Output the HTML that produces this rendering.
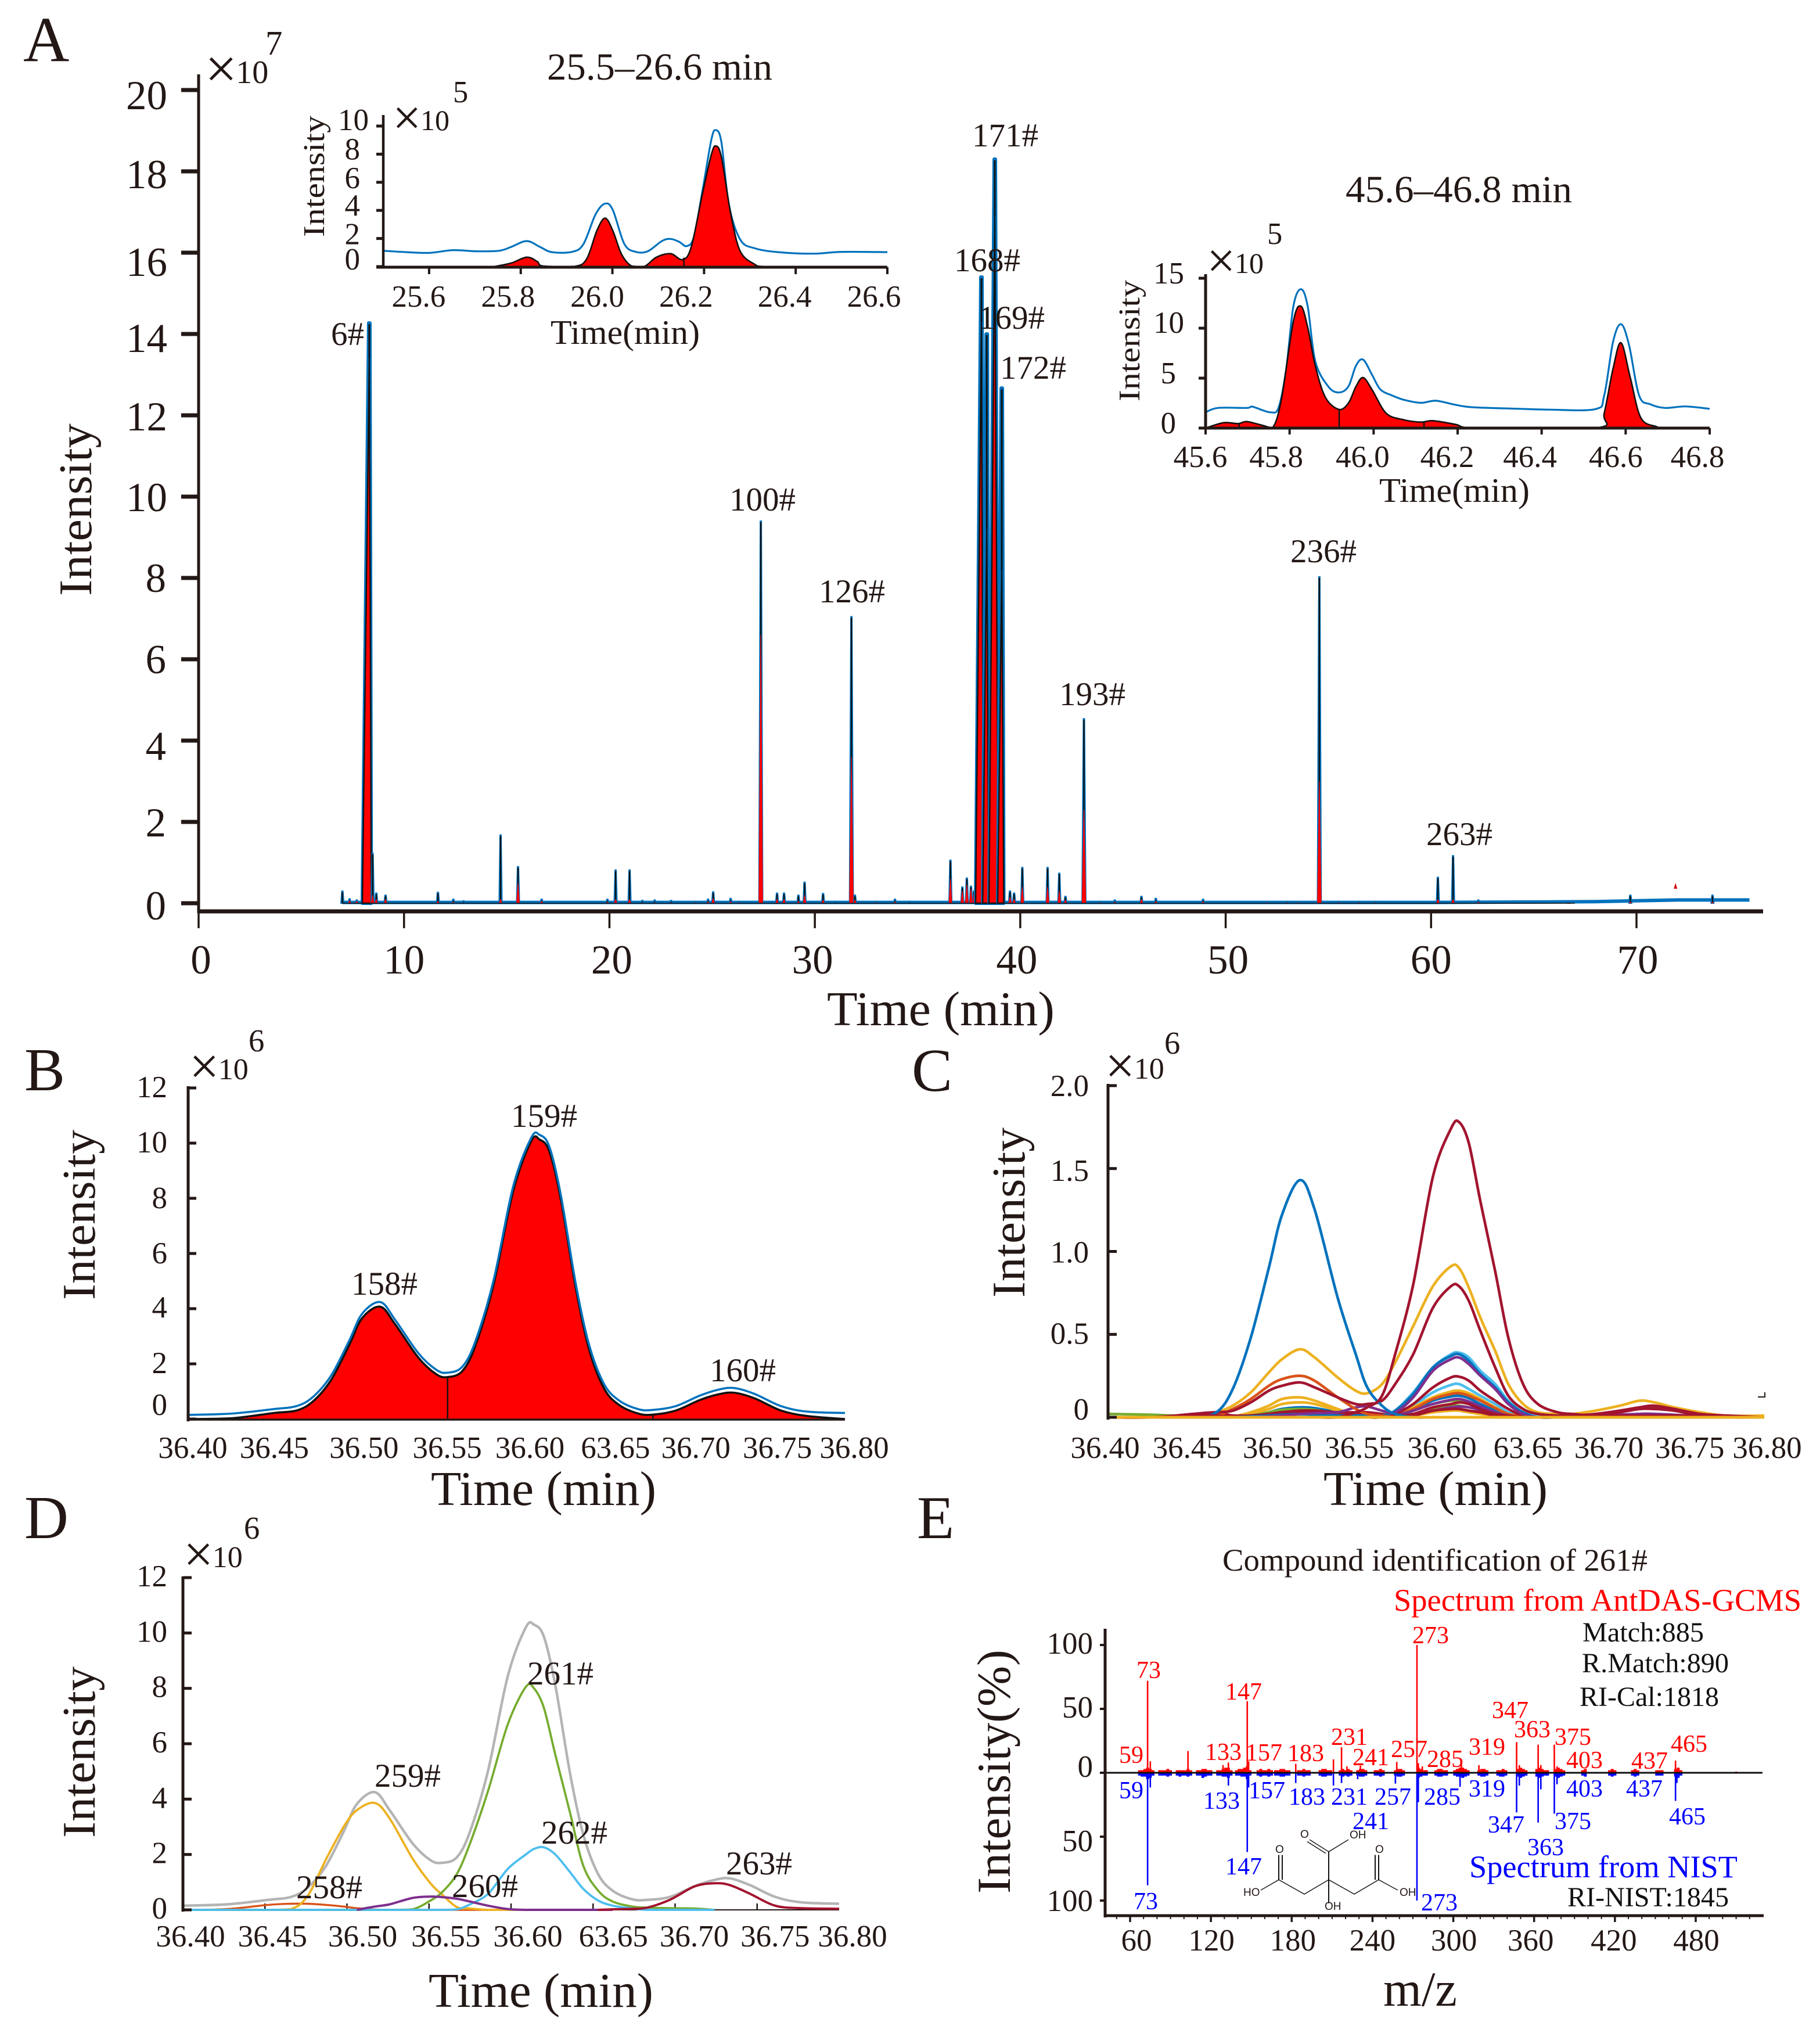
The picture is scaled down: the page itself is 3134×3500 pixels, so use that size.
<!DOCTYPE html>
<html lang="en">
<head>
<meta charset="utf-8">
<title>Chromatogram resolution figure</title>
<style>
html,body{margin:0;padding:0;background:#fff;}
svg{display:block;}
text{font-family:"Liberation Serif",serif;fill:#231815;}
</style>
</head>
<body>
<svg id="figure" xmlns="http://www.w3.org/2000/svg" width="3134" height="3500" viewBox="0 0 3134 3500">
<rect width="3134" height="3500" fill="#fff"/>

<g id="panel-a"></g>
<g id="inset-1"></g>
<g id="inset-2"></g>
<g id="panel-b"></g>
<g id="panel-c"></g>
<g id="panel-d"></g>
<g id="panel-e"></g>

<g>
<text x="40" y="105" font-size="110">A</text>
<text x="42" y="1877" font-size="105">B</text>
<text x="1570" y="1878" font-size="105">C</text>
<text x="42" y="2648" font-size="105">D</text>
<text x="1579" y="2648" font-size="105">E</text>
</g>

<g>
<text transform="translate(157,1026) rotate(-90)" font-size="80" textLength="297" lengthAdjust="spacingAndGlyphs">Intensity</text>
<text x="1424" y="1765" font-size="84" textLength="392" lengthAdjust="spacingAndGlyphs">Time (min)</text>
<text transform="translate(558,408) rotate(-90)" font-size="52" textLength="209" lengthAdjust="spacingAndGlyphs">Intensity</text>
<text x="948" y="592" font-size="59" textLength="257" lengthAdjust="spacingAndGlyphs">Time(min)</text>
<text x="942" y="137" font-size="66" textLength="388" lengthAdjust="spacingAndGlyphs">25.5–26.6 min</text>
<text transform="translate(1962,691) rotate(-90)" font-size="52" textLength="209" lengthAdjust="spacingAndGlyphs">Intensity</text>
<text x="2375" y="864" font-size="59" textLength="259" lengthAdjust="spacingAndGlyphs">Time(min)</text>
<text x="2317" y="348" font-size="66" textLength="390" lengthAdjust="spacingAndGlyphs">45.6–46.8 min</text>
<text transform="translate(163,2238) rotate(-90)" font-size="80" textLength="293" lengthAdjust="spacingAndGlyphs">Intensity</text>
<text x="742" y="2591" font-size="84" textLength="388" lengthAdjust="spacingAndGlyphs">Time (min)</text>
<text transform="translate(1764,2234) rotate(-90)" font-size="80" textLength="293" lengthAdjust="spacingAndGlyphs">Intensity</text>
<text x="2279" y="2591" font-size="84" textLength="386" lengthAdjust="spacingAndGlyphs">Time (min)</text>
<text transform="translate(163,3164) rotate(-90)" font-size="80" textLength="295" lengthAdjust="spacingAndGlyphs">Intensity</text>
<text x="738" y="3455" font-size="84" textLength="387" lengthAdjust="spacingAndGlyphs">Time (min)</text>
<text transform="translate(1739,3260) rotate(-90)" font-size="82" textLength="420" lengthAdjust="spacingAndGlyphs">Intensity(%)</text>
<text x="2382" y="3453" font-size="85" textLength="127" lengthAdjust="spacingAndGlyphs">m/z</text>
</g>

<g font-size="57">
<text x="570" y="594">6#</text>
<text x="1256" y="879">100#</text>
<text x="1410" y="1037">126#</text>
<text x="1643" y="467">168#</text>
<text x="1685" y="566">169#</text>
<text x="1674" y="252">171#</text>
<text x="1722" y="652">172#</text>
<text x="1824" y="1214">193#</text>
<text x="2222" y="968">236#</text>
<text x="2456" y="1455">263#</text>
</g>
<g font-size="57">
<text x="605" y="2229">158#</text>
<text x="880" y="1940">159#</text>
<text x="1222" y="2378">160#</text>
</g>
<g font-size="57">
<text x="510" y="3268">258#</text>
<text x="645" y="3076">259#</text>
<text x="778" y="3266">260#</text>
<text x="908" y="2900">261#</text>
<text x="932" y="3174">262#</text>
<text x="1250" y="3227">263#</text>
</g>

<g>
<text x="2105" y="2704" font-size="54" textLength="732" lengthAdjust="spacingAndGlyphs">Compound identification of 261#</text>
<text x="2400" y="2773" font-size="54" textLength="702" lengthAdjust="spacingAndGlyphs" style="fill:#ff0000">Spectrum from AntDAS-GCMS</text>
<text x="2725" y="2826" font-size="48" textLength="209" lengthAdjust="spacingAndGlyphs" style="fill:#111">Match:885</text>
<text x="2724" y="2879" font-size="48" textLength="253" lengthAdjust="spacingAndGlyphs" style="fill:#111">R.Match:890</text>
<text x="2720" y="2937" font-size="48" textLength="240" lengthAdjust="spacingAndGlyphs" style="fill:#111">RI-Cal:1818</text>
<text x="2530" y="3232" font-size="54" textLength="462" lengthAdjust="spacingAndGlyphs" style="fill:#0000ff">Spectrum from NIST</text>
<text x="2699" y="3282" font-size="48" textLength="278" lengthAdjust="spacingAndGlyphs" style="fill:#111">RI-NIST:1845</text>
</g>

<g font-size="42">
<text x="1927" y="3035" style="fill:#f00">59</text>
<text x="1957" y="2889" style="fill:#f00">73</text>
<text x="2075" y="3030" style="fill:#f00">133</text>
<text x="2110" y="2926" style="fill:#f00">147</text>
<text x="2145" y="3031" style="fill:#f00">157</text>
<text x="2217" y="3032" style="fill:#f00">183</text>
<text x="2292" y="3004" style="fill:#f00">231</text>
<text x="2329" y="3039" style="fill:#f00">241</text>
<text x="2395" y="3025" style="fill:#f00">257</text>
<text x="2432" y="2829" style="fill:#f00">273</text>
<text x="2457" y="3042" style="fill:#f00">285</text>
<text x="2529" y="3021" style="fill:#f00">319</text>
<text x="2569" y="2958" style="fill:#f00">347</text>
<text x="2607" y="2991" style="fill:#f00">363</text>
<text x="2677" y="3004" style="fill:#f00">375</text>
<text x="2697" y="3044" style="fill:#f00">403</text>
<text x="2809" y="3045" style="fill:#f00">437</text>
<text x="2877" y="3016" style="fill:#f00">465</text>
</g>
<g font-size="42">
<text x="1927" y="3096" style="fill:#00f">59</text>
<text x="1952" y="3287" style="fill:#00f">73</text>
<text x="2072" y="3114" style="fill:#00f">133</text>
<text x="2110" y="3227" style="fill:#00f">147</text>
<text x="2150" y="3096" style="fill:#00f">157</text>
<text x="2219" y="3107" style="fill:#00f">183</text>
<text x="2292" y="3107" style="fill:#00f">231</text>
<text x="2329" y="3149" style="fill:#00f">241</text>
<text x="2367" y="3107" style="fill:#00f">257</text>
<text x="2447" y="3289" style="fill:#00f">273</text>
<text x="2452" y="3107" style="fill:#00f">285</text>
<text x="2529" y="3093" style="fill:#00f">319</text>
<text x="2562" y="3155" style="fill:#00f">347</text>
<text x="2630" y="3194" style="fill:#00f">363</text>
<text x="2677" y="3149" style="fill:#00f">375</text>
<text x="2697" y="3093" style="fill:#00f">403</text>
<text x="2800" y="3093" style="fill:#00f">437</text>
<text x="2874" y="3141" style="fill:#00f">465</text>
</g>

<g>
<g transform="translate(1567,2620) scale(1,0.5612)" fill="none" stroke="#111" stroke-width="2">
<path d="M721 1098V1012M721 1012L755 975M721 1012L688 975M716 1017L684 981M721 1098V1170M721 1098L679 1142L635 1098L604 1130M635 1098V1022M641 1098V1022M721 1098L765 1142L807 1098L840 1130M807 1098V1022M801 1098V1022"/>
</g>
<g font-size="19">
<text x="2239" y="3164" style="font-family:'Liberation Sans',sans-serif">O</text>
<text x="2324" y="3165" style="font-family:'Liberation Sans',sans-serif">OH</text>
<text x="2141" y="3264" style="font-family:'Liberation Sans',sans-serif">HO</text>
<text x="2410" y="3264" style="font-family:'Liberation Sans',sans-serif">OH</text>
<text x="2281" y="3288" style="font-family:'Liberation Sans',sans-serif">OH</text>
<text x="2196" y="3190" style="font-family:'Liberation Sans',sans-serif">O</text>
<text x="2368" y="3190" style="font-family:'Liberation Sans',sans-serif">O</text>
</g>
</g>
<path d="M3027 2405H3039V2397" fill="none" stroke="#231815" stroke-width="2"/>
</svg>

<script>
/* ===== shared palette ===== */
const BLUE='#0072BD',ORANGE='#D95319',YELLOW='#EDB120',PURPLE='#7E2F8E',GREEN='#77AC30',LIGHT='#4DBEEE',DARKRED='#A2142F',GRAY='#B4B4B4',INK='#231815';

/* ===== Panel A: overview chromatogram ===== */
const aTicksY=[0,2,4,6,8,10,12,14,16,18,20];
const aTickLabelsY=['0','2','4','6','8','10','12','14','16','18','20'];
const aTicksX=[0,10,20,30,40,50,60,70];
const aTickLabelsX=['0','10','20','30','40','50','60','70'];
const aPeakTimes=[7.0,7.35,7.7,8.31,8.47,8.65,9.1,11.65,12.4,12.9,14.7,15.55,16.7,19.9,20.3,20.98,21.6,22.2,23,24.2,24.8,25.05,25.9,26.3,27.37,28.16,28.5,29.2,29.5,30.4,31,31.78,31.95,33,33.9,34.6,36.6,37.18,37.4,37.6,37.75,38.11,38.37,38.76,39.1,39.5,39.7,40.1,41.33,41.9,42.2,43.1,43.9,44.6,45.9,46.6,48.9,50.5,52,53,53.5,54.56,55.5,56.5,57.3,58,59.5,60.33,61.07,62.3,63.5,66.7,69.7,73.7];
const aBlueHeights=[.3,.11,.08,14.27,1.23,.25,.2,.27,.1,.06,1.68,.9,.1,.1,.82,.82,.07,.08,.07,.05,.1,.28,.12,.05,9.4,.25,.25,.2,.52,.24,.05,7.05,.2,.05,.1,.05,1.06,.4,.62,.42,.3,15.4,14.0,18.3,12.67,.3,.25,.88,.88,.74,.17,4.54,.05,.08,.17,.12,.1,.03,.04,.05,.04,8.03,.05,.05,.05,.04,.04,.64,1.17,.08,.04,.05,.2,.2];
const aRedHeights=[0,.06,.05,13.4,.2,.1,.1,.05,.03,0,.1,.5,.05,.03,.1,.1,.02,.02,.02,.02,.04,.12,.04,.02,6.6,.1,.1,.05,.2,.08,0,3.6,.08,.02,.04,0,.6,.3,.45,.35,.25,14.3,9.2,16.9,8.2,.15,.1,.4,.4,.3,.08,2.3,.02,.03,.1,.05,.04,0,.02,.02,.02,3,.02,.02,.02,.01,.01,.1,.1,.03,.01,.02,.03,.03];
const aBaselineTimes=[7,20,40,60,65,68,70,72,75.5];
const aBaselineValues=[.02,.02,.02,.02,.03,.04,.06,.08,.08];
const aStrayTimes=[71.9];
const aStrayValues=[.5];

/* ===== Inset 1 (25.5-26.6 min) ===== */
const in1TicksX=[25.6,25.8,26.0,26.2,26.4,26.6];
const in1LabelsX=['25.6','25.8','26.0','26.2','26.4','26.6'];
const in1TicksY=[0,2,4,6,8,10];
const in1LabelsY=['0','2','4','6','8','10'];
const in1BlueT=[25.5,25.551,25.601,25.652,25.703,25.753,25.779,25.813,25.842,25.868,25.912,25.937,25.963,25.984,26.001,26.026,26.051,26.077,26.108,26.127,26.146,26.162,26.178,26.197,26.216,26.226,26.238,26.254,26.279,26.311,26.362,26.438,26.501,26.6];
const in1BlueV=[1.13,1.03,.98,1.17,1.09,1.13,1.4,1.82,1.4,1.03,1.05,1.61,3.7,4.48,4.02,1.61,1.05,1.09,1.82,1.97,1.76,1.46,2.13,5.48,9.04,9.71,8.83,4.44,1.92,1.3,1.03,.92,1.05,1.03];
const in1RedT=[25.741,25.779,25.813,25.836,25.849,25.918,25.944,25.966,25.984,26.001,26.02,26.042,26.07,26.096,26.127,26.153,26.172,26.197,26.216,26.226,26.238,26.258,26.279,26.311,26.324,26.362];
const in1RedV=[0,.25,.67,.36,.04,.02,.56,2.55,3.45,2.55,.88,.04,.02,.67,.92,.5,1.4,5.27,7.99,8.58,7.78,3.81,1.09,.15,.02,0];
const in1Dividers=[26.156];

/* ===== Inset 2 (45.6-46.8 min) ===== */
const in2TicksX=[45.6,45.8,46.0,46.2,46.4,46.6,46.8];
const in2LabelsX=['45.6','45.8','46.0','46.2','46.4','46.6','46.8'];
const in2TicksY=[0,5,10,15];
const in2LabelsY=['0','5','10','15'];
const in2BlueT=[45.6,45.629,45.698,45.712,45.754,45.774,45.792,45.809,45.827,45.843,45.861,45.892,45.917,45.94,45.958,45.975,45.996,46.016,46.044,46.072,46.113,46.148,46.196,46.238,46.348,46.417,46.528,46.549,46.57,46.589,46.608,46.632,46.659,46.694,46.742,46.8];
const in2BlueV=[1.58,2.02,2.02,2.14,1.58,2.08,5.95,12.2,13.9,12.2,6.7,4.17,3.57,4.17,6.25,6.85,5.36,3.87,3.27,2.83,2.53,2.74,2.32,2.08,1.93,1.85,1.9,3.27,8.63,10.4,8.33,3.27,2.38,2.02,2.17,1.93];
const in2RedT=[45.6,45.643,45.677,45.698,45.733,45.76,45.781,45.809,45.827,45.843,45.861,45.885,45.917,45.94,45.958,45.975,45.996,46.03,46.072,46.113,46.141,46.196,46.221,46.307,46.535,46.549,46.57,46.589,46.611,46.636,46.673,46.694,46.8];
const in2RedV=[0,.54,.45,.65,.3,.06,3,10.7,12.2,10.1,6.25,3.1,1.87,2.5,4.17,5.06,3.87,1.49,.83,.6,.74,.36,.06,0,.06,1.49,5.95,8.54,5.06,1.04,.15,0,0];
const in2Dividers=[45.68,45.918,46.12];

/* ===== Panels B, C, D share a retention-time grid ===== */
const gridTimes=[36.4,36.427,36.452,36.466,36.476,36.487,36.498,36.506,36.517,36.526,36.54,36.551,36.558,36.567,36.575,36.586,36.598,36.609,36.614,36.62,36.627,36.636,36.644,36.653,36.662,36.674,36.683,36.697,36.712,36.724,36.733,36.745,36.761,36.777,36.8];
const bcdTicksX=[36.4,36.45,36.5,36.55,36.6,36.65,36.7,36.75,36.8];
const bcdLabelsX=['36.40','36.45','36.50','36.55','36.60','63.65','36.70','36.75','36.80'];
const bdTicksY=[0,2,4,6,8,10,12];
const bdLabelsY=['0','2','4','6','8','10','12'];

/* Panel B */
const bTotal=[.15,.2,.36,.47,.8,1.57,2.83,3.82,4.24,3.6,2.4,1.79,1.68,1.9,2.83,5.03,8.44,10.2,10.3,9.87,8.11,4.92,2.73,1.3,.69,.36,.33,.47,.86,1.08,1.12,.91,.47,.27,.22];
const bResolved=[0,.03,.22,.31,.64,1.41,2.67,3.66,4.07,3.44,2.24,1.63,1.52,1.74,2.67,4.87,8.27,10.08,10.13,9.7,7.95,4.76,2.56,1.14,.53,.2,.16,.31,.7,.91,.95,.75,.31,.11,0];
const bDividers=[36.558,36.683];

/* Panel C: extracted ion chromatograms */
const cTicksY=[0,.5,1,1.5,2];
const cLabelsY=['0','0.5','1.0','1.5','2.0'];
const cGreenFlat=[.02,.015,.005,0,0,.01,.02,.03,.04,.03,.02,.01,0,0,.01,.02,.05,.07,.07,.06,.045,.02,.01,0,0,0,0,0,.005,.01,.01,.005,0,0,0];
const cPurpleLow=[0,0,0,0,0,.005,.015,.02,.03,.03,.02,.01,.01,.005,.005,.015,.04,.06,.065,.06,.045,.025,.01,0,0,0,0,.005,.01,.015,.015,.01,0,0,0];
const cGreen10=[0,0,0,0,.005,.01,.03,.045,.05,.045,.02,.01,0,0,.01,.04,.08,.1,.1,.09,.06,.03,.01,0,0,0,0,.005,.01,.015,.015,.01,0,0,0];
const cPurple11=[0,0,0,0,.005,.01,.02,.03,.035,.03,.015,.01,0,0,.01,.04,.08,.105,.11,.095,.065,.03,.01,0,0,0,0,.005,.015,.02,.02,.015,.005,0,0];
const cDarkRed6=[0,0,.02,.03,.01,.01,.02,.03,.04,.04,.03,.03,.03,.02,.01,.02,.06,.08,.09,.08,.05,.02,.01,0,0,.01,.01,.015,.04,.055,.06,.045,.015,0,0];
const cDarkRed5=[0,0,.01,.015,.01,.01,.02,.025,.03,.03,.02,.02,.02,.01,0,.01,.04,.05,.05,.04,.03,.01,0,0,0,.005,.01,.01,.03,.05,.05,.04,.01,0,0];
const cOrange14=[0,0,0,0,.005,.01,.02,.03,.035,.03,.02,.01,0,0,.01,.05,.11,.14,.145,.13,.1,.055,.02,.005,0,0,0,0,.01,.015,.015,.01,0,0,0];
const cYellow09=[0,0,0,0,.005,.02,.05,.08,.09,.08,.04,.01,0,0,0,.01,.03,.04,.04,.03,.02,.01,0,0,0,0,0,0,0,0,0,0,0,0,0];
const cYellow16=[0,0,0,0,.005,.03,.07,.11,.12,.1,.05,.01,0,0,.01,.06,.12,.155,.16,.145,.11,.06,.02,.01,0,0,0,0,.01,.02,.02,.01,0,0,0];
const cBlue13=[0,0,0,0,0,.01,.03,.05,.06,.055,.03,.01,0,0,.01,.04,.1,.125,.13,.115,.08,.04,.015,0,0,0,0,0,.005,.01,.01,.005,0,0,0];
const cLight20=[0,0,0,0,0,.005,.01,.02,.025,.02,.01,.005,.005,.01,.02,.07,.15,.195,.2,.17,.13,.08,.03,.01,0,0,0,0,.01,.02,.02,.01,0,0,0];
const cDarkRed24=[0,0,0,0,0,.01,.02,.03,.035,.03,.02,.01,.005,0,.02,.08,.18,.24,.245,.22,.16,.1,.05,.01,0,0,0,0,.01,.015,.015,.01,0,0,0];
const cBlue38=[0,0,0,0,0,.005,.01,.015,.02,.015,.01,.01,.01,.01,.04,.14,.3,.37,.38,.34,.26,.18,.09,.03,0,0,0,0,0,.01,.01,0,0,0,0];
const cLight39=[0,0,0,0,0,0,.01,.01,.015,.015,.01,.01,.01,.01,.04,.15,.3,.38,.39,.36,.28,.2,.1,.03,.01,0,0,0,.01,.015,.015,.01,0,0,0];
const cPurple36=[0,0,0,0,0,0,.005,.01,.02,.025,.03,.06,.065,.04,.03,.12,.28,.35,.36,.32,.25,.17,.08,.02,0,0,0,0,.01,.02,.02,.01,0,0,0];
const cOrange25=[0,0,.01,.01,.05,.11,.19,.23,.25,.22,.12,.05,.02,.01,0,0,0,0,0,0,0,0,0,0,0,0,0,0,0,0,0,0,0,0,0];
const cDarkRed80=[0,0,.02,.03,.04,.09,.16,.19,.21,.18,.12,.08,.08,.1,.2,.38,.66,.79,.79,.7,.52,.3,.13,.05,.02,.01,.01,.02,.04,.06,.07,.05,.02,.01,0];
const cYellow92=[0,0,.005,.03,.07,.15,.27,.35,.41,.36,.24,.16,.145,.2,.33,.55,.79,.91,.9,.78,.6,.4,.2,.08,.03,.02,.02,.04,.07,.1,.09,.06,.03,.01,.01];
const cBlue143=[0,0,.005,.03,.17,.48,.9,1.22,1.43,1.25,.72,.38,.18,.07,.02,0,0,0,0,0,0,0,0,0,0,0,0,0,0,0,0,0,0,0,0];
const cDarkRed178=[0,0,.01,.01,0,0,0,0,0,0,0,.03,.06,.13,.38,.8,1.45,1.74,1.78,1.65,1.3,.88,.48,.2,.08,.03,.02,.01,.01,.01,.01,.01,.01,0,0];
const cBaseYellow=[0,0,0,0,0,0,0,0,0,0,0,0,0,0,0,0,0,0,0,0,0,0,0,0,0,0,0,0,0,0,0,0,0,0,0];

/* Panel D: resolved components */
const dTotal=[.15,.2,.36,.47,.8,1.57,2.83,3.82,4.25,3.6,2.4,1.79,1.7,1.9,2.83,5.03,8.44,10.2,10.3,9.87,8.11,4.92,2.73,1.3,.69,.38,.36,.47,.86,1.08,1.14,.91,.47,.27,.22];
const dOrange258=[0,.03,.18,.22,.22,.18,.12,.06,.01,0,0,0,0,0,0,0];
const dYellow259=[0,0,0,.03,.5,1.8,3.0,3.6,3.86,3.3,1.85,.95,.55,.1,.05,0,0,0];
const dGreen261=[0,0,0,0,0,0,0,0,0,0,.02,.34,.64,1.3,2.4,4.3,6.7,8.05,8.0,7.3,5.6,3.5,1.6,.7,.3,.12,.08,.06,.05,0];
const dLight262=[0,0,0,0,0,0,0,0,0,0,0,0,0,.02,.2,.58,1.48,2.0,2.2,2.26,2.0,1.36,.76,.34,.15,.05,0,0,0,0];
const dPurple260=[null,null,null,null,null,null,null,0,.12,.2,.43,.48,.46,.4,.3,.15,.03,0,0,0,0,0,0,0,0];
const dRed263=[null,null,null,null,null,null,null,null,null,null,null,null,null,null,null,null,null,null,null,null,null,null,null,0,.02,.04,.08,.37,.85,.96,.9,.6,.15,.06,.04];

/* ===== Panel E: mirror mass spectrum ===== */
const eTicksX=[60,120,180,240,300,360,420,480];
const eLabelsX=['60','120','180','240','300','360','420','480'];
const eMinorX=[50,70,80,90,100,110,130,140,150,160,170,190,200,210,220,230,250,260,270,280,290,310,320,330,340,350,370,380,390,400,410,430,440,450,460,470,490,500,510,520];
const eTicksY=[100,50,0,-50,-100];
const eLabelsY=['100','50','0','50','100'];
const eRedMz=[73,75,103,129,133,147,148,183,211,217,221,231,258,273,274,277,306,319,347,349,363,365,375,377,465,510];
const eRedVals=[72,9,17,6,8,56,9,7,10.5,20,5,5.6,8.5,100,7.5,5,9,6,24,6,22,6,22,5,9.5,1];
const eBlueMz=[73,75,133,147,148,183,211,217,229,257,273,274,305,347,349,363,365,375,377,465,466];
const eBlueVals=[88,11.5,10,62,11.5,8,10,8,5,8.5,100,23,11,31,10,39,13,32,9,22,8];
const eBgMz=[67,69,71,73,75,77,82,84,86,88,90,95,97,99,101,103,105,110,112,114,116,118,120,125,127,129,131,133,135,139,141,143,145,147,149,155,157,159,161,163,165,168,170,172,174,176,178,185,187,189,191,193,201,203,205,207,209,216,218,220,222,224,229,231,233,235,242,244,246,248,257,259,261,263,274,276,278,280,287,289,291,293,295,301,303,305,307,309,311,319,321,323,325,333,335,337,339,348,350,352,354,362,364,366,368,370,376,378,380,382,396,398,416,418,420,433,435,437,451,453,455,465,467,469];
const eBgBlue=[2.2,3,3,5,4,2.2, 2.2,2.2,2.2,3,2.2, 2.2,3,2.2,2.2,3,2.2, 2.2,2.2,4,3,2.2,2.2, 2.2,2.2,3,3,4,2.2, 2.2,2.2,3,3,5,2.2, 2.2,3,2.2,2.2,3,2.2, 2.2,2.2,3,3,2.2,2.2, 2.2,2.2,3,2.2,2.2, 2.2,3,3,2.2,2.2, 2.2,3,2.2,3,2.2, 2.2,3,3,2.2, 2.2,2.2,3,2.2, 2.2,3,3,2.2, 4,3,2.2,2.2, 2.2,3,3,2.2,2.2, 2.2,3,3,4,3,2.2, 2.2,3,3,2.2, 2.2,3,3,2.2, 3,4,3,2.2, 3,4,3,2.2,2.2, 3,4,3,2.2, 2.2,3, 2.2,3,2.2, 2.2,3,2.2, 2.2,2.2,2.2, 3,4,2.2];
const eBgRed=[2,2,3,4,3,2, 2,2,2,3,2, 2,2,2,2,3,2, 2,2,3,3,2,2, 2,2,3,4,4,2, 2,3,3,4,5,2, 2,3,2,2,3,2, 2,2,3,3,2,2, 2,2,3,2,2, 2,3,3,2,2, 2,3,2,3,2, 2,3,3,2, 2,2,3,2, 2,3,3,2, 4,3,2,2, 2,3,3,2,2, 2,3,4,4,3,2, 2,3,3,2, 2,2,3,2, 3,4,3,2, 3,4,3,2,2, 3,4,3,2, 2,3, 2,3,2, 2,3,2, 2,2,2, 3,4,2];

/* ===== helpers ===== */
const NS='http://www.w3.org/2000/svg';
function add(parent,tag,attrs){
  const e=document.createElementNS(NS,tag);
  for(const k in attrs)e.setAttribute(k,attrs[k]);
  parent.appendChild(e);
  return e;
}
function linear(d0,d1,r0,r1){return v=>r0+(v-d0)*(r1-r0)/(d1-d0);}
function splinePath(pts,floorY){
  let d='M'+pts[0][0].toFixed(1)+' '+pts[0][1].toFixed(1);
  const lim=v=>floorY===undefined?v:Math.min(v,floorY);
  for(let i=0;i<pts.length-1;i++){
    const p0=pts[i-1]||pts[i],p1=pts[i],p2=pts[i+1],p3=pts[i+2]||p2;
    const c1x=p1[0]+(p2[0]-p0[0])/6,c1y=lim(p1[1]+(p2[1]-p0[1])/6);
    const c2x=p2[0]-(p3[0]-p1[0])/6,c2y=lim(p2[1]-(p3[1]-p1[1])/6);
    d+='C'+c1x.toFixed(1)+' '+c1y.toFixed(1)+' '+c2x.toFixed(1)+' '+c2y.toFixed(1)+' '+p2[0].toFixed(1)+' '+p2[1].toFixed(1);
  }
  return d;
}
function toPoints(ts,vs,sx,sy){
  const out=[];
  for(let i=0;i<vs.length;i++){
    if(vs[i]===null||vs[i]===undefined)continue;
    out.push([sx(ts[i]),sy(vs[i])]);
  }
  return out;
}
function valueAt(ts,vs,t){
  for(let i=0;i<ts.length-1;i++){
    if(t>=ts[i]&&t<=ts[i+1])return vs[i]+(vs[i+1]-vs[i])*(t-ts[i])/(ts[i+1]-ts[i]);
  }
  return 0;
}
function drawCurve(g,ts,vs,sx,sy,color,width,floorY,name){
  const p=add(g,'path',{d:splinePath(toPoints(ts,vs,sx,sy),floorY),fill:'none',stroke:color,'stroke-width':width,'stroke-linejoin':'round'});
  
  
  return p;
}
function drawArea(g,ts,vs,sx,sy,floorY,name){
  const pts=toPoints(ts,vs,sx,sy);
  const d=splinePath(pts,floorY)+'L'+pts[pts.length-1][0].toFixed(1)+' '+floorY+'L'+pts[0][0].toFixed(1)+' '+floorY+'Z';
  const p=add(g,'path',{d:d,fill:'#ff0000',stroke:'none'});
  
  
}
function drawDividers(g,times,ts,vs,sx,sy,floorY){
  times.forEach(t=>{
    const l=add(g,'line',{x1:sx(t),x2:sx(t),y1:sy(valueAt(ts,vs,t)),y2:floorY,stroke:'#111','stroke-width':2.4});
    
    
  });
}
function axisLine(g,x1,y1,x2,y2,w,name){
  const l=add(g,'line',{x1:x1,y1:y1,x2:x2,y2:y2,stroke:INK,'stroke-width':w});
  
  
}
function yTicks(g,ticks,labels,sy,o){
  ticks.forEach((v,i)=>{
    const t=add(g,'line',{x1:o.x0,x2:o.x1,y1:sy(v),y2:sy(v),stroke:INK,'stroke-width':o.w});
    
    
    const e=add(g,'text',{x:o.right+(o.rightNudge?o.rightNudge[i]:0),y:sy(v)+o.dy[i],'text-anchor':'end','font-size':o.size});
    e.textContent=labels[i];
    
    
  });
}
function xTicks(g,ticks,labels,sx,o){
  ticks.forEach((v,i)=>{
    if(o.len){
      const t=add(g,'line',{x1:sx(v),x2:sx(v),y1:o.y,y2:o.y+o.len,stroke:INK,'stroke-width':o.w});
      
      
    }
    const e=add(g,'text',{x:sx(v)+o.nudge[i],y:o.baseline,'text-anchor':'middle','font-size':o.size});
    e.textContent=labels[i];
    
    
  });
}
function sciLabel(g,x,base,expX,expBase,size,exp){
  const m=add(g,'text',{x:x-4,y:base+8,'font-size':size*1.75});
  m.textContent='×';
  
  
  const t=add(g,'text',{x:x+size*.88,y:base,'font-size':size});
  t.textContent='10';
  
  
  const s=add(g,'text',{x:expX,y:expBase,'font-size':size*1.05});
  s.textContent=exp;
  
  
}

/* ===== draw Panel A ===== */
(function(){
  const g=document.getElementById('panel-a');
  const sx=linear(0,70,342,2818),sy=linear(0,20,1555,155),y0=sy(0);
  const base=add(g,'path',{d:'M'+aBaselineTimes.map((t,i)=>sx(t)+' '+sy(aBaselineValues[i])).join('L'),fill:'none',stroke:BLUE,'stroke-width':6});
  
  
  aPeakTimes.forEach((t,i)=>{
    const x=sx(t),h=aBlueHeights[i],r=aRedHeights[i],top=sy(h);
    if(h>11){
      const L=h>15?10:(h>14.1?12:7),R=h>18?6:3.5;
      const b=add(g,'path',{d:'M'+(x-L)+' '+y0+'L'+(x-1)+' '+top+'L'+(x+1)+' '+top+'L'+(x+R)+' '+y0+'Z',fill:BLUE,stroke:BLUE,'stroke-width':6,'stroke-linejoin':'round'});
      
      
      const k=add(g,'line',{x1:x,x2:x,y1:top+2,y2:sy(r),stroke:'#111','stroke-width':3});
      
      
      const f=add(g,'path',{d:'M'+(x-L)+' '+y0+'L'+x+' '+sy(r)+'L'+(x+R)+' '+y0+'Z',fill:'#ff0000',stroke:'#111','stroke-width':2.4,'stroke-linejoin':'round'});
      
      
    }else{
      const hw=h>3?3.4:2.6;
      const b=add(g,'path',{d:'M'+(x-hw)+' '+y0+'L'+(x-1)+' '+top+'L'+(x+1)+' '+top+'L'+(x+hw)+' '+y0+'Z',fill:BLUE,stroke:BLUE,'stroke-width':2,'stroke-linejoin':'round'});
      
      
      const k=add(g,'line',{x1:x,x2:x,y1:top+2,y2:y0,stroke:'#111','stroke-width':h>.15?2.4:1.4});
      
      
      if(r>0){
        const f=add(g,'path',{d:'M'+(x-hw-.3)+' '+y0+'L'+(x-.5)+' '+sy(r)+'L'+(x+.5)+' '+sy(r)+'L'+(x+hw+.3)+' '+y0+'Z',fill:'#ff0000'});
        
        
      }
    }
  });
  const bl=add(g,'line',{x1:sx(7),x2:sx(67),y1:y0,y2:y0,stroke:'#111','stroke-width':1.6});
  
  
  aStrayTimes.forEach((t,i)=>{
    const x=sx(t),top=sy(aStrayValues[i]);
    const s=add(g,'path',{d:'M'+(x-3)+' '+(top+10)+'L'+x+' '+top+'L'+(x+3)+' '+(top+10)+'Z',fill:'#d00000'});
    
    
  });
  axisLine(g,342,128,342,1572,5,'panel-a-y-axis');
  axisLine(g,342,1569,3036,1569,7,'panel-a-x-axis');
  yTicks(g,aTicksY,aTickLabelsY,sy,{x0:312,x1:342,w:7,right:288,size:71,dy:[28,25,33,24,24,25,26,31,40,29,33],rightNudge:[-2,-2,-2,-2,-2,0,0,0,0,0,0]});
  xTicks(g,aTicksX,aTickLabelsX,sx,{y:1569,len:29,w:3.5,baseline:1676,size:71,nudge:[4,0,4,-4,-6,4,0,2]});
  sciLabel(g,357,143,457,94,56,'7');
})();

/* ===== draw insets ===== */
(function(){
  const g=document.getElementById('inset-1');
  const sx=linear(25.5,26.6,660,1528),sy=linear(0,10,459,217),y0=sy(0);
  drawCurve(g,in1BlueT,in1BlueV,sx,sy,BLUE,3.2,undefined,'inset-1-total-ion-trace');
  drawArea(g,in1RedT,in1RedV,sx,sy,y0,'inset-1-resolved-area');
  drawCurve(g,in1RedT,in1RedV,sx,sy,'#111',2.6,y0,'inset-1-resolved-outline');
  drawDividers(g,in1Dividers,in1RedT,in1RedV,sx,sy,y0);
  axisLine(g,660,198,660,462,4.5,'inset-1-y-axis');
  axisLine(g,648,460,1528,460,5,'inset-1-x-axis');
  yTicks(g,in1TicksY,in1LabelsY,sy,{x0:648,x1:660,w:5,right:620,size:53,dy:[5,10,9,10,9,7],rightNudge:[0,0,0,0,0,15]});
  xTicks(g,in1TicksX,in1LabelsX,sx,{y:460,len:12,w:4,baseline:528,size:53,nudge:[-18,-22,-26,-31,-19,-23]});
  sciLabel(g,680,224,780,176,50,'5');
})();
(function(){
  const g=document.getElementById('inset-2');
  const sx=linear(45.6,46.8,2076,2944),sy=linear(0,15,737,479),y0=sy(0);
  drawCurve(g,in2BlueT,in2BlueV,sx,sy,BLUE,3.2,undefined,'inset-2-total-ion-trace');
  drawArea(g,in2RedT,in2RedV,sx,sy,y0,'inset-2-resolved-area');
  drawCurve(g,in2RedT,in2RedV,sx,sy,'#111',2.6,y0,'inset-2-resolved-outline');
  drawDividers(g,in2Dividers,in2RedT,in2RedV,sx,sy,y0);
  axisLine(g,2076,472,2076,739,5,'inset-2-y-axis');
  axisLine(g,2064,737,2944,737,5,'inset-2-x-axis');
  yTicks(g,in2TicksY,in2LabelsY,sy,{x0:2064,x1:2076,w:5,right:2039,size:53,dy:[9,9,8,9],rightNudge:[-14,-14,0,0]});
  xTicks(g,in2TicksX,in2LabelsX,sx,{y:737,len:11,w:4,baseline:804,size:53,nudge:[-9,-23,-19,-18,-20,-17,-21]});
  sciLabel(g,2082,470,2182,420,50,'5');
})();

/* ===== draw Panel B ===== */
(function(){
  const g=document.getElementById('panel-b');
  const sx=linear(36.4,36.8,324,1455),sy=linear(0,12,2443,1873),y0=2443;
  drawArea(g,gridTimes,bResolved,sx,sy,y0,'panel-b-resolved-area');
  drawCurve(g,gridTimes,bResolved,sx,sy,'#111',3.6,y0,'panel-b-resolved-outline');
  drawCurve(g,gridTimes,bTotal,sx,sy,BLUE,3.6,undefined,'panel-b-total-ion-trace');
  drawDividers(g,bDividers,gridTimes,bResolved,sx,sy,y0);
  axisLine(g,324,1870,324,2447,5,'panel-b-y-axis');
  axisLine(g,324,2444,1455,2444,3.6,'panel-b-x-axis');
  yTicks(g,bdTicksY,bdLabelsY,sy,{x0:324,x1:338,w:5,right:288,size:53,dy:[-7,16,15,17,17,16,16]});
  xTicks(g,bcdTicksX,bcdLabelsX,sx,{y:2444,len:0,baseline:2510,size:53,nudge:[8,7,20,22,23,29,26,25,16]});
  sciLabel(g,330,1858,428,1810,52,'6');
})();

/* ===== draw Panel C ===== */
(function(){
  const g=document.getElementById('panel-c');
  const sx=linear(36.4,36.8,1908,3038),sy=linear(0,2,2440,1869);
  const series=[[cGreenFlat,GREEN],[cPurpleLow,PURPLE],[cLight20,LIGHT],[cBlue13,BLUE],[cYellow09,YELLOW],[cYellow16,YELLOW],[cOrange14,ORANGE],[cGreen10,GREEN],[cPurple11,PURPLE],[cDarkRed5,DARKRED],[cDarkRed6,DARKRED],[cDarkRed24,DARKRED],[cLight39,LIGHT],[cBlue38,BLUE],[cPurple36,PURPLE],[cOrange25,ORANGE],[cYellow92,YELLOW],[cDarkRed80,DARKRED],[cBlue143,BLUE],[cDarkRed178,DARKRED]];
  series.forEach(s=>{
    drawCurve(g,gridTimes,s[0],sx,sy,s[1],4.6,2442,'extracted-ion-trace');
  });
  drawCurve(g,gridTimes,cBaseYellow,sx,sy,YELLOW,5,undefined,'extracted-ion-baseline');
  axisLine(g,1908,1866,1908,2444,5,'panel-c-y-axis');
  yTicks(g,cTicksY,cLabelsY,sy,{x0:1908,x1:1923,w:5,right:1875,size:53,dy:[4,16,19,21,18]});
  xTicks(g,bcdTicksX,bcdLabelsX,sx,{y:2444,len:0,baseline:2510,size:53,nudge:[-5,-5,9,9,10,17,15,13,5]});
  sciLabel(g,1907,1857,2005,1814,52,'6');
})();

/* ===== draw Panel D ===== */
(function(){
  const g=document.getElementById('panel-d');
  const sx=linear(36.4,36.8,315,1445),sy=linear(0,12,3288,2716);
  axisLine(g,315,3288,1445,3288,2,'panel-d-x-axis');
  [36.45,36.5,36.55,36.6,36.65,36.7,36.75].forEach(t=>{
    const k=add(g,'line',{x1:sx(t),x2:sx(t),y1:3288,y2:3277,stroke:INK,'stroke-width':2.5});
    
    
  });
  drawCurve(g,gridTimes,dTotal,sx,sy,GRAY,4.4,undefined,'total-ion-trace-grey');
  drawCurve(g,gridTimes,dOrange258,sx,sy,ORANGE,3.4,3288,'component-258');
  drawCurve(g,gridTimes,dYellow259,sx,sy,YELLOW,3.8,3288,'component-259');
  drawCurve(g,gridTimes,dGreen261,sx,sy,GREEN,3.8,3288,'component-261');
  drawCurve(g,gridTimes,dLight262,sx,sy,LIGHT,3.8,3288,'component-262');
  drawCurve(g,gridTimes,dPurple260,sx,sy,PURPLE,4,3288,'component-260');
  drawCurve(g,gridTimes,dRed263,sx,sy,DARKRED,4,3288,'component-263');
  axisLine(g,315,2714,315,3291,5,'panel-d-y-axis');
  yTicks(g,bdTicksY,bdLabelsY,sy,{x0:315,x1:330,w:5,right:288,size:53,dy:[15,15,15,15,15,15,15]});
  xTicks(g,bcdTicksX,bcdLabelsX,sx,{y:3288,len:0,baseline:3351,size:53,nudge:[13,13,27,29,29,35,33,31,23]});
  sciLabel(g,320,2698,420,2649,52,'6');
})();

/* ===== draw Panel E ===== */
(function(){
  const g=document.getElementById('panel-e');
  const sx=linear(60,480,1946,2920),sy=linear(0,100,3052,2832);
  eBgMz.forEach((m,i)=>{
    const b=add(g,'line',{x1:sx(m),x2:sx(m),y1:sy(0),y2:sy(-(eBgBlue[i]||0)),stroke:'#0000ff','stroke-width':5});
    
    
  });
  eBgMz.forEach((m,i)=>{
    const r=add(g,'line',{x1:sx(m),x2:sx(m),y1:sy(0),y2:sy(eBgRed[i]||0),stroke:'#ff0000','stroke-width':5});
    
    
  });
  eRedMz.forEach((m,i)=>{
    const r=add(g,'line',{x1:sx(m),x2:sx(m),y1:sy(0),y2:sy(eRedVals[i]),stroke:'#ff0000','stroke-width':2.6});
    
    
  });
  eBlueMz.forEach((m,i)=>{
    const b=add(g,'line',{x1:sx(m),x2:sx(m),y1:sy(0),y2:sy(-eBlueVals[i]),stroke:'#0000ff','stroke-width':2.6});
    
    
  });
  const z=add(g,'line',{x1:1903,x2:3035,y1:sy(0),y2:sy(0),stroke:'#111','stroke-width':3});
  
  
  axisLine(g,1903,2804,1903,3301,5,'panel-e-y-axis');
  axisLine(g,1901,3298,3037,3298,5,'panel-e-x-axis');
  eMinorX.forEach(m=>{
    const k=add(g,'line',{x1:sx(m),x2:sx(m),y1:3298,y2:3304,stroke:INK,'stroke-width':2});
    
    
  });
  yTicks(g,eTicksY,eLabelsY,sy,{x0:1894,x1:1903,w:4,right:1882,size:53,dy:[15,15,7,25,18]});
  xTicks(g,eTicksX,eLabelsX,sx,{y:3298,len:11,w:3.5,baseline:3358,size:53,nudge:[11,1,2,0,1,-6,-2,1]});
})();
</script>
</body>
</html>
